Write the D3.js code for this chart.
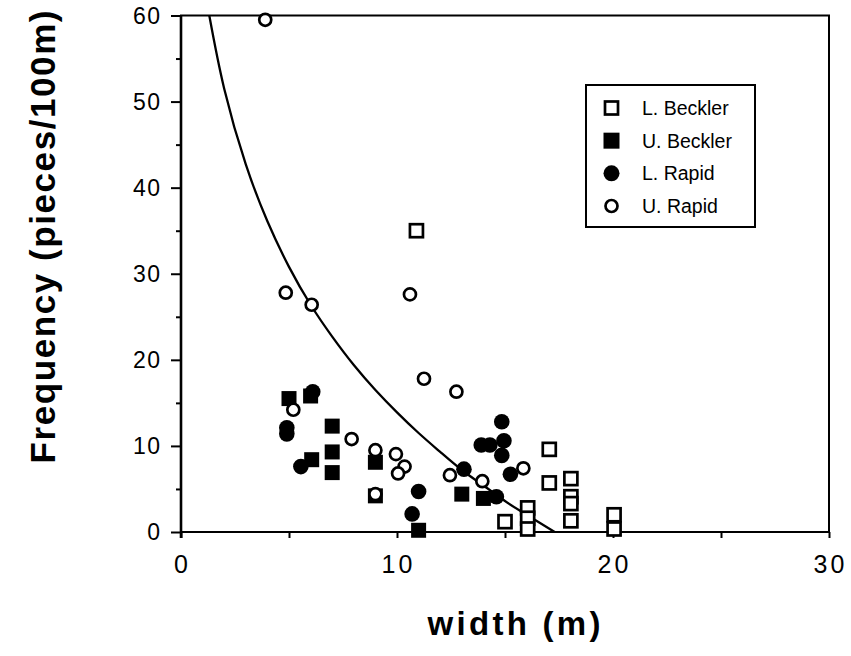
<!DOCTYPE html>
<html>
<head>
<meta charset="utf-8">
<script src="https://cdn.jsdelivr.net/npm/d3@7"></script>
<style type="text/css">
body {
	margin: 0;
	background: white;
}
text {
	font-family: "Liberation Sans", Arial, Helvetica, sans-serif;
	fill: black;
}
.title {
	font-weight: bold;
}
</style>
</head>
<body>
<svg id="chart" width="851" height="656"></svg>
<script type="text/javascript">
// values: [width (m), frequency (pieces/100m)]
var lBeckler = [
	[10.9, 35.0], [17.05, 9.6], [17.05, 5.7], [18.05, 6.2], [18.05, 4.1], [18.05, 3.3],
	[18.05, 1.3], [15.0, 1.2], [16.05, 2.8], [16.05, 1.6], [16.05, 0.35], [20.05, 2.0], [20.05, 0.35]
];
var uBeckler = [
	[5.0, 15.5], [6.0, 15.8], [6.05, 8.4], [7.0, 12.3], [7.0, 9.3], [7.0, 6.9],
	[9.0, 8.1], [9.0, 4.2], [11.0, 0.2], [13.0, 4.4], [14.0, 3.9]
];
var lRapid = [
	[4.9, 12.1], [4.9, 11.4], [6.1, 16.3], [5.55, 7.6], [11.0, 4.7], [10.7, 2.1], [13.1, 7.3],
	[13.9, 10.1], [14.3, 10.1], [14.85, 12.8], [14.95, 10.6], [14.85, 8.9], [15.25, 6.7], [14.6, 4.1]
];
var uRapid = [
	[3.9, 59.5], [4.85, 27.8], [6.05, 26.4], [10.6, 27.6], [11.25, 17.8], [12.75, 16.3],
	[5.2, 14.2], [7.9, 10.8], [9.0, 9.5], [9.0, 4.4], [9.95, 9.05], [10.35, 7.6],
	[10.05, 6.8], [12.45, 6.6], [13.95, 5.9], [15.85, 7.4]
];
// fitted curve
var curveX = [1.31, 2, 3, 4, 5, 6, 7, 8, 9, 10, 11, 12, 13, 14, 15, 16, 17.3];
var curveY = [60, 51.5, 42.7, 36.1, 30.8, 26.4, 22.7, 19.4, 16.5, 13.9, 11.5, 9.3, 7.2, 5.4, 3.6, 2.0, 0];

var xTicks = [0, 10, 20, 30];
var xMinor = [5, 15, 25];
var yTicks = [0, 10, 20, 30, 40, 50, 60];
var yMinor = [5, 15, 25, 35, 45, 55];
var seriesNames = ["L. Beckler", "U. Beckler", "L. Rapid", "U. Rapid"];

var svg = d3.select("#chart");
// note: "top" is taken by window.top, so plot edges get their own names
var plotLeft = 181, plotRight = 829, plotTop = 15.5, plotBottom = 532;

var x = d3.scaleLinear().domain([0, 30]).range([plotLeft, plotRight]);
var y = d3.scaleLinear().domain([0, 60]).range([plotBottom, plotTop]);

// axes (ticks drawn by d3, labels added separately to get the spaced digits)
var xAxis = svg.append("g").attr("transform", "translate(0," + plotBottom + ")")
	.call(d3.axisBottom(x).tickValues(xTicks.concat(xMinor)).tickSize(6).tickFormat(""));
var yAxis = svg.append("g").attr("transform", "translate(" + plotLeft + ",0)")
	.call(d3.axisLeft(y).tickValues(yTicks).tickSize(10).tickFormat(""));
var yAxisMinor = svg.append("g").attr("transform", "translate(" + plotLeft + ",0)")
	.call(d3.axisLeft(y).tickValues(yMinor).tickSize(5).tickFormat(""));
[xAxis, yAxis, yAxisMinor].forEach(function(g){
	g.selectAll(".domain").remove();
	g.selectAll("line").attr("stroke", "black").attr("stroke-width", 2);
});

// frame
svg.append("rect")
	.attr("x", plotLeft).attr("y", plotTop)
	.attr("width", plotRight - plotLeft).attr("height", plotBottom - plotTop)
	.attr("fill", "none").attr("stroke", "black").attr("stroke-width", 2);
svg.append("line")
	.attr("x1", plotLeft).attr("x2", plotLeft).attr("y1", plotTop).attr("y2", plotBottom + 6)
	.attr("stroke", "black").attr("stroke-width", 2.6);

// tick labels
svg.append("g").selectAll("text").data(xTicks).enter().append("text")
	.attr("x", function(d){ return x(d) + 1.5; })
	.attr("y", 573)
	.attr("text-anchor", "middle")
	.style("font-size", "25px")
	.style("letter-spacing", "3px")
	.text(function(d){ return d; });
svg.append("g").selectAll("text").data(yTicks).enter().append("text")
	.attr("x", 160)
	.attr("y", function(d){ return y(d) + 8; })
	.attr("text-anchor", "end")
	.style("font-size", "23px")
	.style("letter-spacing", "1.5px")
	.attr("dx", 1.5)
	.text(function(d){ return d; });

// axis titles
svg.append("text").attr("class", "title")
	.attr("x", 514).attr("y", 635)
	.attr("text-anchor", "middle")
	.attr("textLength", 173).attr("lengthAdjust", "spacing")
	.style("font-size", "33px")
	.text("width (m)");
svg.append("text").attr("class", "title")
	.attr("transform", "translate(55,237) rotate(-90)")
	.attr("text-anchor", "middle")
	.attr("textLength", 453).attr("lengthAdjust", "spacing")
	.style("font-size", "35px")
	.text("Frequency  (pieces/100m)");

// curve, clipped to the plot frame
svg.append("clipPath").attr("id", "plot-clip").append("rect")
	.attr("x", plotLeft).attr("y", plotTop).attr("width", plotRight - plotLeft).attr("height", plotBottom - plotTop);
var line = d3.line()
	.x(function(d){ return x(d[0]); })
	.y(function(d){ return y(d[1]); })
	.curve(d3.curveNatural);
svg.append("path")
	.datum(d3.zip(curveX, curveY))
	.attr("clip-path", "url(#plot-clip)")
	.attr("d", line)
	.attr("fill", "none").attr("stroke", "black").attr("stroke-width", 2.3);

// markers
function drawSquares(g, data, filled, size){
	g.selectAll("rect").data(data).enter().append("rect")
		.attr("x", function(d){ return x(d[0]) - size / 2; })
		.attr("y", function(d){ return y(d[1]) - size / 2; })
		.attr("width", size).attr("height", size)
		.attr("fill", filled ? "black" : "white")
		.attr("stroke", "black").attr("stroke-width", filled ? 0 : 2.7);
}
function drawCircles(g, data, filled, r){
	g.selectAll("circle").data(data).enter().append("circle")
		.attr("cx", function(d){ return x(d[0]); })
		.attr("cy", function(d){ return y(d[1]); })
		.attr("r", r)
		.attr("fill", filled ? "black" : "white")
		.attr("stroke", "black").attr("stroke-width", filled ? 0 : 2.7);
}
drawSquares(svg.append("g"), lBeckler, false, 13);
drawSquares(svg.append("g"), uBeckler, true, 15);
drawCircles(svg.append("g"), lRapid, true, 7.8);
drawCircles(svg.append("g"), uRapid, false, 6);

// legend
var legend = svg.append("g");
legend.append("rect")
	.attr("x", 586).attr("y", 85).attr("width", 169).attr("height", 142)
	.attr("fill", "white").attr("stroke", "black").attr("stroke-width", 2);
var rowY = d3.scalePoint().domain(seriesNames).range([108, 206]);
var lx = 611.5;
legend.append("rect").attr("x", lx - 6.5).attr("y", rowY("L. Beckler") - 6.5).attr("width", 13).attr("height", 13)
	.attr("fill", "white").attr("stroke", "black").attr("stroke-width", 2.7);
legend.append("rect").attr("x", lx - 8).attr("y", rowY("U. Beckler") - 8).attr("width", 16).attr("height", 16)
	.attr("fill", "black");
legend.append("circle").attr("cx", lx).attr("cy", rowY("L. Rapid")).attr("r", 8).attr("fill", "black");
legend.append("circle").attr("cx", lx).attr("cy", rowY("U. Rapid")).attr("r", 6)
	.attr("fill", "white").attr("stroke", "black").attr("stroke-width", 2.7);
legend.selectAll("text.lab").data(seriesNames).enter().append("text")
	.attr("class", "lab")
	.attr("x", 642)
	.attr("y", function(d){ return rowY(d) + 7; })
	.style("font-size", "19.5px")
	.text(function(d){ return d; });
</script>
</body>
</html>
